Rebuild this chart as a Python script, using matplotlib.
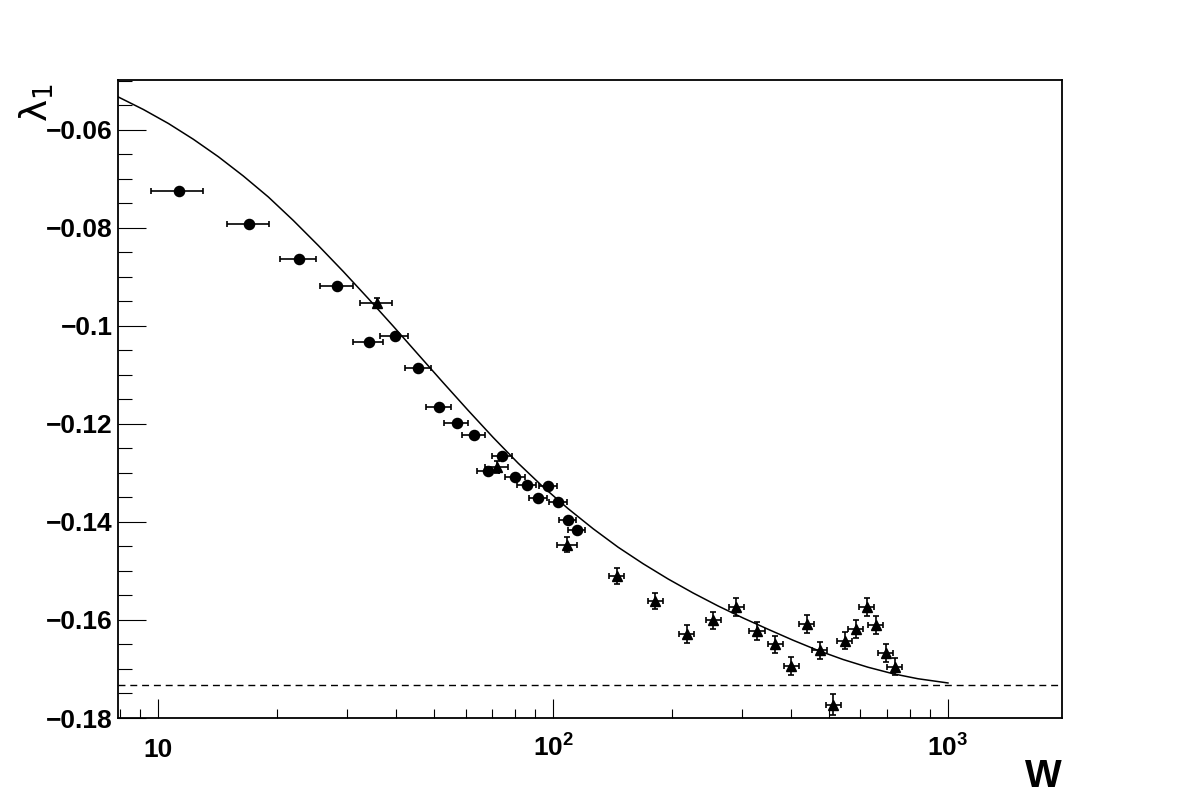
import matplotlib
matplotlib.use("Agg")
import matplotlib.pyplot as plt
from matplotlib.ticker import FixedLocator, FixedFormatter, NullFormatter

plt.rcParams['font.family'] = ['Liberation Sans', 'DejaVu Sans']
plt.rcParams['mathtext.fontset'] = 'custom'
plt.rcParams['mathtext.rm'] = 'Liberation Sans:bold'
plt.rcParams['mathtext.bf'] = 'Liberation Sans:bold'

# circles: W, x error, lambda_1
circ_w = [11.3, 17.0, 22.7, 28.4, 34.1, 39.7, 45.5, 51.3, 57.0, 62.9,
          68.5, 74.4, 80.0, 85.8, 91.5, 97.3, 103.0, 109.0, 114.8]
circ_werr = [1.7, 2.1, 2.4, 2.75, 2.95, 3.2, 3.4, 3.7, 4.0, 4.1,
             4.3, 4.4, 4.65, 4.7, 4.9, 5.1, 5.3, 5.4, 5.6]
circ_lam = [-0.0724, -0.0792, -0.0863, -0.0918, -0.1033, -0.1020, -0.1085,
            -0.1165, -0.1197, -0.1222, -0.1295, -0.1265, -0.1308, -0.1325,
            -0.1351, -0.1327, -0.1360, -0.1395, -0.1417]

# triangles: W, x error, lambda_1, lambda error
tri_w = [35.8, 72.0, 108.5, 145.0, 181.6, 218.1, 254.6, 291.1, 328.5, 365.5,
         401.1, 438.9, 474.3, 512.4, 548.5, 584.8, 622.6, 657.3, 696.6, 732.8]
tri_werr = [3.3, 4.7, 6.1, 6.5, 8.1, 9.5, 11.2, 12.8, 14.5, 16.1,
            17.6, 19.3, 20.9, 22.5, 24.1, 25.7, 27.4, 28.9, 30.6, 32.2]
tri_lam = [-0.0953, -0.1287, -0.1446, -0.1510, -0.1561, -0.1629, -0.1601,
           -0.1573, -0.1622, -0.1650, -0.1694, -0.1608, -0.1662, -0.1773,
           -0.1642, -0.1619, -0.1573, -0.1610, -0.1668, -0.1695]
tri_lerr = [0.0011, 0.0012, 0.0015, 0.0017, 0.0017, 0.0018, 0.0018, 0.0018,
            0.0018, 0.0018, 0.0018, 0.0018, 0.0018, 0.0021, 0.0018, 0.0018,
            0.0018, 0.0018, 0.0018, 0.0018]

# fit curve
fit_w = [7.917, 9.163, 10.60, 12.26, 14.19, 16.41, 18.99, 21.97, 25.41,
         29.40, 34.01, 39.35, 45.52, 52.67, 60.93, 70.49, 81.55, 94.35,
         109.15, 126.27, 146.08, 169.0, 195.5, 226.2, 261.7, 302.7, 350.2,
         405.2, 468.8, 542.3, 627.3, 725.8, 839.7, 1000.0]
fit_lam = [-0.05327, -0.05582, -0.05867, -0.06189, -0.06546, -0.06939,
           -0.07367, -0.07847, -0.08357, -0.08888, -0.09439, -0.10005,
           -0.10582, -0.11158, -0.11724, -0.12276, -0.12801, -0.13286,
           -0.13729, -0.14138, -0.14515, -0.14852, -0.15163, -0.15449,
           -0.15714, -0.15959, -0.16189, -0.16413, -0.16622, -0.16806,
           -0.16964, -0.17097, -0.17199, -0.17285]

asymptote = -0.1733

y_ticks = [-0.18, -0.16, -0.14, -0.12, -0.10, -0.08, -0.06]
y_labels = ['\u22120.18', '\u22120.16', '\u22120.14', '\u22120.12',
            '\u22120.1', '\u22120.08', '\u22120.06']
x_ticks = [10, 100, 1000]
x_labels = ['10', r'$\mathregular{10^{2}}$', r'$\mathregular{10^{3}}$']

fig = plt.figure(figsize=(11.82, 8), dpi=100)
ax = fig.add_axes([0.0998, 0.1025, 0.7987, 0.7975])

ax.plot(fit_w, fit_lam, color='black', lw=1.1)
ax.axhline(asymptote, color='black', lw=1.0, ls=(0, (5, 3.5)))

ax.errorbar(circ_w, circ_lam, xerr=circ_werr, fmt='o', color='black',
            ms=7.3, elinewidth=1.2, capsize=2.2, capthick=1.2)
ax.errorbar(tri_w, tri_lam, xerr=tri_werr, yerr=tri_lerr, fmt='^',
            color='black', ms=6.5, elinewidth=1.2, capsize=2.2, capthick=1.2)

ax.set_xscale('log')
ax.set_xlim(7.9, 1945)
ax.set_ylim(-0.18, -0.0498)

ax.xaxis.set_major_locator(FixedLocator(x_ticks))
ax.xaxis.set_major_formatter(FixedFormatter(x_labels))
ax.xaxis.set_minor_locator(FixedLocator([8, 9, 20, 30, 40, 50, 60, 70, 80, 90,
                                         200, 300, 400, 500, 600, 700, 800, 900]))
ax.xaxis.set_minor_formatter(NullFormatter())

ax.yaxis.set_major_locator(FixedLocator(y_ticks))
ax.yaxis.set_major_formatter(FixedFormatter(y_labels))
ax.yaxis.set_minor_locator(FixedLocator([-0.175, -0.17, -0.165, -0.155, -0.15,
                                         -0.145, -0.135, -0.13, -0.125, -0.115,
                                         -0.11, -0.105, -0.095, -0.09, -0.085,
                                         -0.075, -0.07, -0.065, -0.055, -0.05]))

ax.tick_params(axis='both', which='both', direction='in', top=False, right=False,
               width=0.8, colors='black')
ax.tick_params(axis='y', which='major', length=20, pad=4, labelsize=19)
ax.tick_params(axis='y', which='minor', length=10)
ax.tick_params(axis='x', which='major', length=13.7, pad=28, labelsize=19)
ax.tick_params(axis='x', which='minor', length=6.8)
for lab in ax.get_yticklabels():
    lab.set_fontweight('bold')
for lab in ax.get_xticklabels():
    lab.set_fontweight('bold')
    lab.set_verticalalignment('baseline')

for s in ax.spines.values():
    s.set_linewidth(1.3)

fig.text(1062 / 1182, 1 - 787 / 800, 'W', ha='right', va='baseline',
         fontsize=28, fontweight='bold')
fig.text(37 / 1182, 1 - 83 / 800, r'$\mathrm{\lambda}_{1}$', rotation=90,
         ha='center', va='top', fontsize=27, math_fontfamily='dejavusans')

fig.savefig('out.png', dpi=100)
